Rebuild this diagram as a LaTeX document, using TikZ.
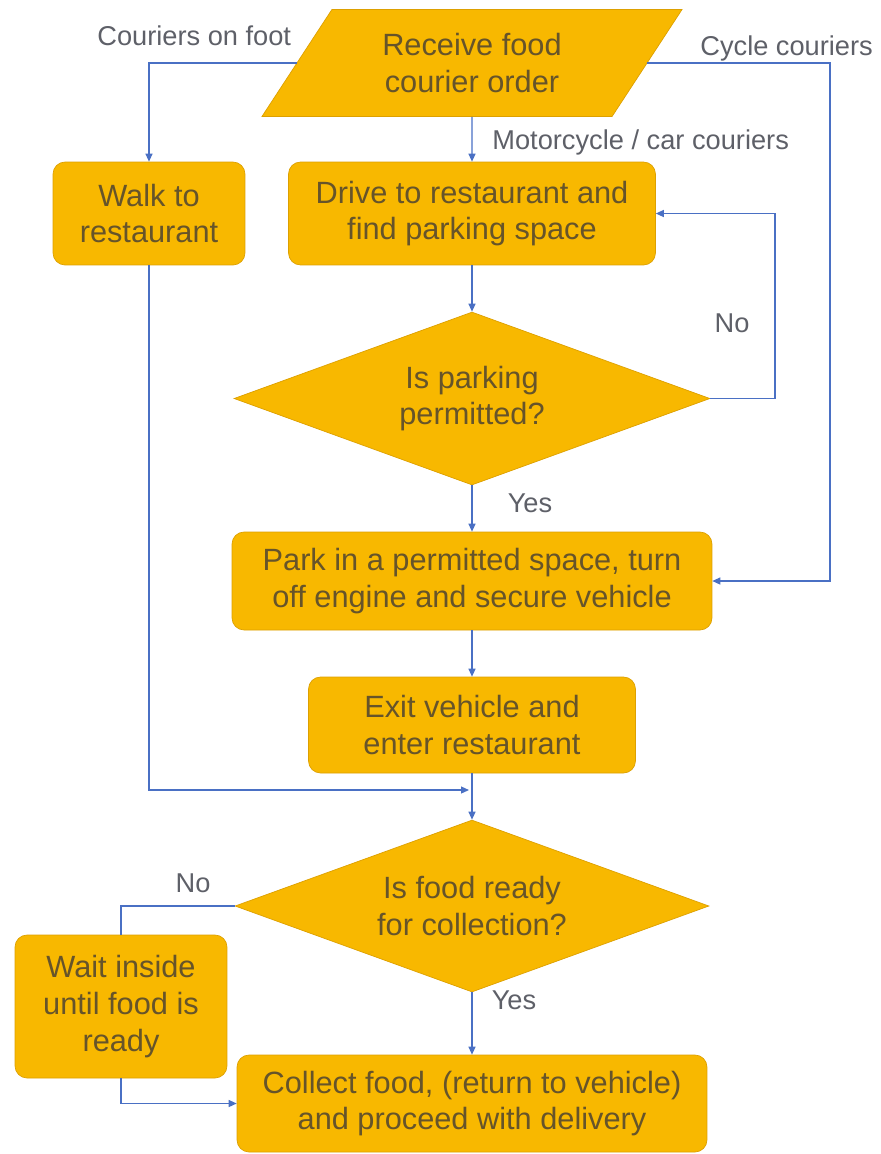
\documentclass[tikz,border=0pt]{standalone}
\usepackage{fontspec}
\setmainfont{Liberation Sans}
\usetikzlibrary{shapes.geometric}
\usetikzlibrary{arrows.meta}
\usetikzlibrary{positioning}

\definecolor{stepfill}{HTML}{F8B800}
\definecolor{stepedge}{HTML}{DDA000}
\definecolor{steptext}{HTML}{66542A}
\definecolor{flowline}{HTML}{4A70C4}
\definecolor{flowtext}{HTML}{5E6068}

\tikzset{
  stepbox/.style={rectangle,rounded corners=0.24cm,draw=stepedge,fill=stepfill,thin,
    text=steptext,align=center,inner sep=0pt,font=\fontsize{17.5}{21}\selectfont},
  askbox/.style={diamond,aspect=2.75,draw=stepedge,fill=stepfill,thin,text=steptext,align=center,
    inner sep=0pt,font=\fontsize{17.5}{21}\selectfont},
  inbox/.style={trapezium,trapezium left angle=53,trapezium right angle=127,
    trapezium stretches=true,draw=stepedge,fill=stepfill,thin,text=steptext,
    align=center,inner sep=0pt,font=\fontsize{17.5}{21}\selectfont},
  flow/.style={draw=flowline,line width=0.7pt,-{Triangle[length=1.6mm,width=1.4mm]}},
  plain/.style={draw=flowline,line width=0.7pt},
  lbl/.style={text=flowtext,inner sep=0pt,font=\fontsize{15.5}{18}\selectfont}
}

\begin{document}
\begin{tikzpicture}[x=0.02cm,y=-0.02cm]
\useasboundingbox (0,0) rectangle (880,1154);

% steps
\node[inbox,minimum width=8.42cm,minimum height=2.14cm] (recv) at (472,63) {Receive food\\courier order};
\node[stepbox,minimum width=3.84cm,minimum height=2.06cm] (walk) at (149,213.5) {Walk to\\restaurant};
\node[stepbox,minimum width=7.34cm,minimum height=2.06cm] (drive) at (472,213.5) {Drive to restaurant and\\find parking space};
\node[askbox,minimum width=9.52cm,minimum height=3.46cm] (park?) at (472,398.5) {Is parking\\permitted?};
\node[stepbox,minimum width=9.6cm,minimum height=1.96cm] (park) at (472,581) {Park in a permitted space, turn\\off engine and secure vehicle};
\node[stepbox,minimum width=6.54cm,minimum height=1.92cm] (exit) at (472,725) {Exit vehicle and\\enter restaurant};
\node[askbox,minimum width=9.48cm,minimum height=3.44cm] (ready?) at (472,906) {Is food ready\\for collection?};
\node[stepbox,minimum width=4.24cm,minimum height=2.86cm] (wait) at (121,1006.5) {Wait inside\\until food is\\ready};
\node[stepbox,minimum width=9.4cm,minimum height=1.94cm] (collect) at (472,1103.5) {Collect food, (return to vehicle)\\and proceed with delivery};

% turning points
\coordinate (cycle) at (830,581);
\coordinate (noloop) at (775,213.5);
\coordinate (join) at (469,790);

% connectors
\draw[flow] (recv.south) -- (drive.north);
\draw[flow] (recv.west) -| (walk.north);
\draw[flow] (recv.east) -| (cycle) -- (park.east);
\draw[flow] (drive.south) -- (park?.north);
\draw[flow] (park?.east) -| (noloop) -- (drive.east);
\draw[flow] (park?.south) -- (park.north);
\draw[flow] (park.south) -- (exit.north);
\draw[flow] (walk.south) |- (join);
\draw[flow] (exit.south) -- (ready?.north);
\draw[plain] (ready?.west) -| (wait.north);
\draw[flow] (wait.south) |- (collect.west);
\draw[flow] (ready?.south) -- (collect.north);

% labels
\node[lbl,anchor=west] (lfoot) at (97,36) {Couriers on foot};
\node[lbl,anchor=west] (lcycle) at (700,48) {Cycle couriers};
\node[lbl,anchor=west] (lmotor) at (492,142) {Motorcycle / car couriers};
\node[lbl] (lno1) at (732,323) {No};
\node[lbl] (lyes1) at (530,503) {Yes};
\node[lbl] (lno2) at (193,883) {No};
\node[lbl] (lyes2) at (514,1000) {Yes};

\end{tikzpicture}
\end{document}
